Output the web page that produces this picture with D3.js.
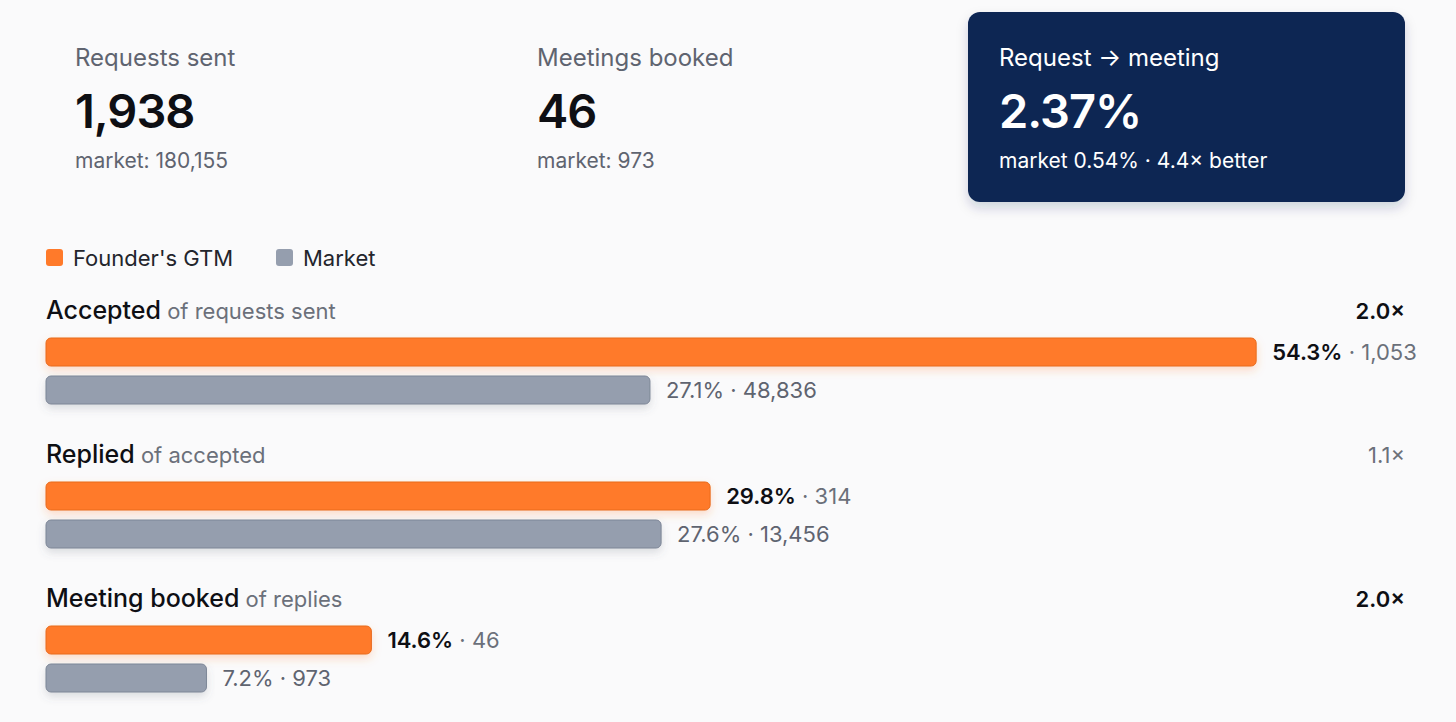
<!DOCTYPE html>
<html><head><meta charset="utf-8">
<script src="https://cdn.jsdelivr.net/npm/d3@7"></script>
<style>
body{margin:0;background:#fafafb;font-family:Inter,"Noto Sans",sans-serif;}
</style></head><body>
<svg id="chart" width="1456" height="722"></svg>
<script>
// KPI cards
var kpiLabels = ["Requests sent", "Meetings booked", "Request \u2192 meeting"];
var kpiValues = ["1,938", "46", "2.37%"];
var kpiNotes = ["market: 180,155", "market: 973", "market 0.54% \u00b7 4.4\u00d7 better"];

// funnel stages
var stages = ["Accepted", "Replied", "Meeting booked"];
var stageNotes = ["of requests sent", "of accepted", "of replies"];
var founderPct = [54.3, 29.8, 14.6];
var founderCount = ["1,053", "314", "46"];
var marketPct = [27.1, 27.6, 7.2];
var marketCount = ["48,836", "13,456", "973"];
var ratios = ["2.0\u00d7", "1.1\u00d7", "2.0\u00d7"];
var ratioStrong = [true, false, true];

var svg = d3.select("#chart");
var defs = svg.append("defs");
var f = defs.append("filter").attr("id", "sh").attr("x", "-10%").attr("y", "-50%").attr("width", "120%").attr("height", "250%");
f.append("feDropShadow").attr("dx", 0).attr("dy", 6).attr("stdDeviation", 6).attr("flood-color", "#0b2350").attr("flood-opacity", 0.18);
var fo = defs.append("filter").attr("id", "sho").attr("x", "-5%").attr("y", "-50%").attr("width", "110%").attr("height", "250%");
fo.append("feDropShadow").attr("dx", 0).attr("dy", 4).attr("stdDeviation", 4).attr("flood-color", "#ff7a2a").attr("flood-opacity", 0.25);
var fg = defs.append("filter").attr("id", "shg").attr("x", "-5%").attr("y", "-50%").attr("width", "110%").attr("height", "250%");
fg.append("feDropShadow").attr("dx", 0).attr("dy", 4).attr("stdDeviation", 4).attr("flood-color", "#556070").attr("flood-opacity", 0.2);

var kx = [75, 537, 999];
svg.append("rect").attr("x", 968).attr("y", 12).attr("width", 437).attr("height", 190).attr("rx", 12)
    .attr("fill", "#0c2553").attr("filter", "url(#sh)");
kpiLabels.forEach(function (d, i) {
    var dark = i == 2;
    svg.append("text").attr("x", kx[i]).attr("y", 66).attr("font-size", 24)
        .attr("fill", dark ? "#fff" : "#5f6470").text(d);
    svg.append("text").attr("x", kx[i]).attr("y", 128).attr("font-size", 47).attr("font-weight", 600)
        .attr("fill", dark ? "#fff" : "#0e0f14").attr("letter-spacing", -1).text(kpiValues[i]);
    svg.append("text").attr("x", kx[i]).attr("y", 168).attr("font-size", 21)
        .attr("fill", dark ? "#fff" : "#5f6470").text(kpiNotes[i]);
});

// legend
var legend = [["Founder's GTM", "#ff7a2a", 46], ["Market", "#959eae", 276]];
legend.forEach(function (d) {
    svg.append("rect").attr("x", d[2]).attr("y", 249).attr("width", 17).attr("height", 17).attr("rx", 3).attr("fill", d[1]);
    svg.append("text").attr("x", d[2] + 27).attr("y", 266).attr("font-size", 22).attr("fill", "#23252c").text(d[0]);
});

var x = d3.scaleLinear().domain([0, 53.8]).range([46, 1245]);
var y = d3.scaleBand().domain(stages).range([290, 722]);

stages.forEach(function (s, i) {
    var g = svg.append("g").attr("transform", "translate(0," + y(s) + ")");
    var t = g.append("text").attr("x", 46).attr("y", 29).attr("font-size", 25);
    t.append("tspan").attr("fill", "#0e0f14").attr("font-weight", 500).text(s);
    t.append("tspan").attr("fill", "#6b707a").attr("font-size", 22).text(" " + stageNotes[i]);
    g.append("text").attr("x", 1405).attr("y", 29).attr("text-anchor", "end").attr("font-size", 22)
        .attr("font-weight", ratioStrong[i] ? 600 : 400).attr("fill", ratioStrong[i] ? "#0e0f14" : "#6b707a").text(ratios[i]);

    g.append("rect").attr("x", x(0)).attr("y", 48).attr("width", x(founderPct[i]) - x(0)).attr("height", 28).attr("rx", 5)
        .attr("fill", "#ff7a2a").attr("stroke", "#e86a1c").attr("filter", "url(#sho)");
    g.append("rect").attr("x", x(0)).attr("y", 86).attr("width", x(marketPct[i]) - x(0)).attr("height", 28).attr("rx", 5)
        .attr("fill", "#959eae").attr("stroke", "#7d8697").attr("filter", "url(#shg)");

    var lf = g.append("text").attr("x", x(founderPct[i]) + 16).attr("y", 70).attr("font-size", 22);
    lf.append("tspan").attr("fill", "#0e0f14").attr("font-weight", 600).text(founderPct[i].toFixed(1) + "%");
    lf.append("tspan").attr("fill", "#6b707a").text(" \u00b7 " + founderCount[i]);
    g.append("text").attr("x", x(marketPct[i]) + 16).attr("y", 108).attr("font-size", 22).attr("fill", "#5f6470")
        .text(marketPct[i].toFixed(1) + "% \u00b7 " + marketCount[i]);
});
</script></body></html>
